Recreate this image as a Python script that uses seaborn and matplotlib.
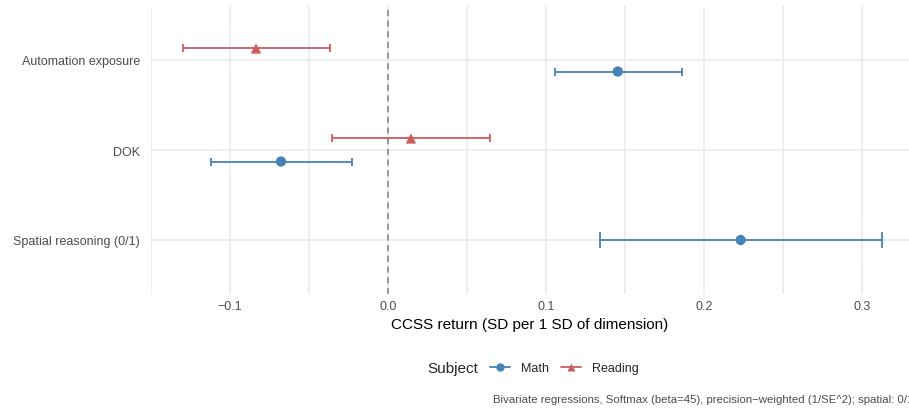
import matplotlib
matplotlib.use("Agg")
import matplotlib.pyplot as plt
from matplotlib.lines import Line2D
import seaborn as sns
import pandas as pd
import numpy as np

# ---- data ----
dimensions = ["Automation exposure", "DOK", "Spatial reasoning (0/1)"]
subjects = ["Math", "Reading"]
row_dimension = ["Automation exposure", "Automation exposure", "DOK", "DOK", "Spatial reasoning (0/1)"]
row_subject = ["Math", "Reading", "Math", "Reading", "Math"]
estimate = [0.1456, -0.0835, -0.0677, 0.0146, 0.2234]
ci_low = [0.1057, -0.1300, -0.1120, -0.0354, 0.1342]
ci_high = [0.1860, -0.0367, -0.0228, 0.0646, 0.3130]

colors = {"Math": "#4682B4", "Reading": "#CD5C5C"}
markers = {"Math": "o", "Reading": "^"}

df = pd.DataFrame({"dimension": row_dimension, "subject": row_subject,
                   "est": estimate, "lo": ci_low, "hi": ci_high})

# dodge positions (categories top to bottom)
cat_pos = {d: i for i, d in enumerate(dimensions)}
counts = df.groupby("dimension")["subject"].transform("count")
def ypos(r, n):
    base = cat_pos[r["dimension"]]
    if n == 1:
        return base
    return base + (-0.128 if r["subject"] == "Reading" else 0.128)
df["y"] = [ypos(r, n) for (_, r), n in zip(df.iterrows(), counts)]
df["n"] = counts

sns.set_theme(style="white")
plt.rcParams["font.family"] = ["Liberation Sans", "DejaVu Sans"]

fig = plt.figure(figsize=(9.09, 4.14), dpi=100)
ax = fig.add_axes([151/909, 1-295/414, (909-151)/909, (295-7)/414])

# grid
for gx in np.arange(-0.15, 0.351, 0.05):
    ax.axvline(gx, color="#EBEBEB", lw=1.2, zorder=0)
for i in range(len(dimensions)):
    ax.axhline(i, color="#EBEBEB", lw=1.2, zorder=0)

ax.axvline(0, color="#808080", lw=1.1, ls=(0, (4, 3)), zorder=1)

for _, r in df.iterrows():
    cap = 2.9 if r["n"] > 1 else 6.1
    ax.errorbar(r["est"], r["y"], xerr=[[r["est"] - r["lo"]], [r["hi"] - r["est"]]],
                fmt="none", ecolor=colors[r["subject"]], elinewidth=1.3,
                capsize=cap, capthick=1.3, zorder=2)

sns.scatterplot(data=df, x="est", y="y", hue="subject", style="subject",
                palette=colors, markers=markers, hue_order=subjects, style_order=subjects,
                s=55, edgecolor="none", ax=ax, legend=False, zorder=3)

ax.set_xlim(-0.15, 0.33)
ax.set_ylim(len(dimensions) - 1 + 0.6, -0.6)
ax.set_yticks(range(len(dimensions)))
ax.set_yticklabels(dimensions)
ax.set_xticks([-0.1, 0.0, 0.1, 0.2, 0.3])
ax.set_xticklabels(["\u22120.1", "0.0", "0.1", "0.2", "0.3"])
ax.tick_params(axis="both", length=0, labelsize=9, labelcolor="#4D4D4D")
ax.tick_params(axis="y", pad=8)
ax.tick_params(axis="x", pad=4)
ax.set_xlabel("CCSS return (SD per 1 SD of dimension)", fontsize=11, color="black", labelpad=4)
ax.set_ylabel("")
for s in ax.spines.values():
    s.set_visible(False)
ax.grid(False)

# legend
handles = [Line2D([0], [0], color=colors[s], marker=markers[s], markersize=6, lw=1.3,
                  markeredgecolor="none") for s in subjects]
leg = fig.legend(handles, subjects, loc="center left", bbox_to_anchor=(490/909, 1-369/414),
                 ncol=2, frameon=False, fontsize=9, handlelength=1.6, handletextpad=0.88,
                 columnspacing=0.96, borderpad=0, borderaxespad=0)
fig.text(427/909, 1-369/414, "Subject", fontsize=11, va="center", ha="left")

fig.text(493/909, 1-400/414,
         "Bivariate regressions, Softmax (beta=45), precision\u2212weighted (1/SE^2); spatial: 0/1",
         fontsize=8.2, color="#4D4D4D", ha="left", va="center")

fig.savefig("out.png", dpi=100)
